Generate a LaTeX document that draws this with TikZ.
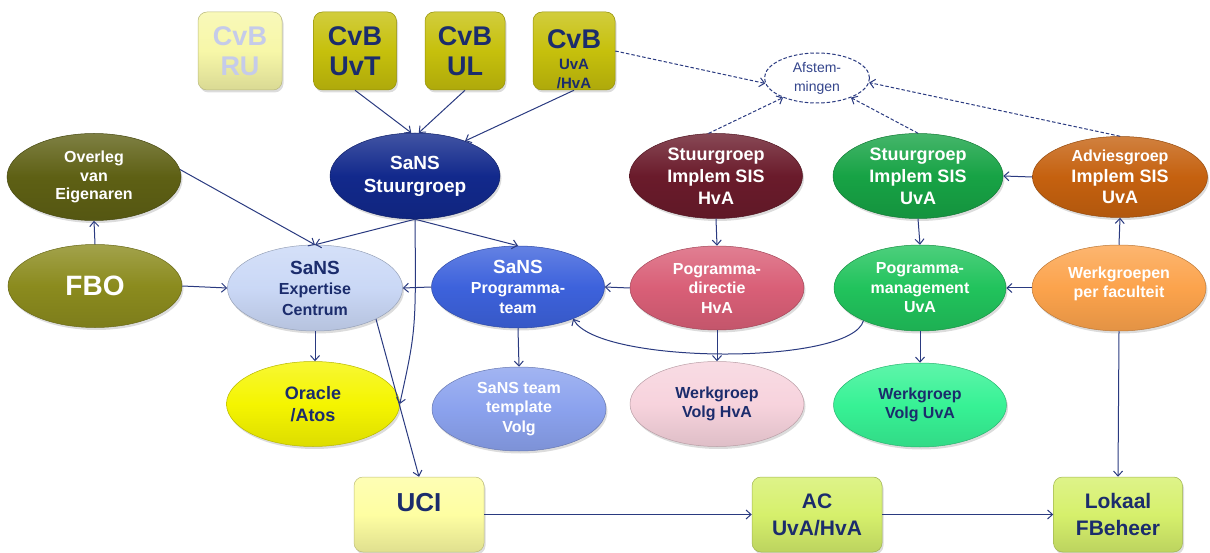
\documentclass[tikz,border=0pt]{standalone}
\usepackage{fontspec}
\setmainfont{Liberation Sans}
\usetikzlibrary{shapes.geometric,arrows.meta,shadows}

\newcommand{\fsz}[2]{\fontsize{#1}{#2}\selectfont}

% palette
\definecolor{ink}{HTML}{1B2C6C}
\definecolor{wire}{HTML}{2A3A80}
\definecolor{softink}{HTML}{34458C}
\definecolor{cvb}{HTML}{C6C00C}
\definecolor{cvbpale}{HTML}{F7F7A8}
\definecolor{cvbpaletext}{HTML}{C5CBEA}
\definecolor{overleg}{HTML}{5E6014}
\definecolor{fbo}{HTML}{8B8B1E}
\definecolor{sansnavy}{HTML}{12298C}
\definecolor{expertise}{HTML}{CAD8F6}
\definecolor{progteam}{HTML}{3D62DC}
\definecolor{template}{HTML}{8BA2EE}
\definecolor{oracle}{HTML}{F5F500}
\definecolor{hvadark}{HTML}{6A1B2B}
\definecolor{hvamid}{HTML}{D95F77}
\definecolor{hvalight}{HTML}{F7D3DD}
\definecolor{uvadark}{HTML}{17A345}
\definecolor{uvamid}{HTML}{21C35C}
\definecolor{uvalight}{HTML}{37F295}
\definecolor{advies}{HTML}{C5610F}
\definecolor{faculteit}{HTML}{FCA34C}
\definecolor{uci}{HTML}{FEFEA2}
\definecolor{beheer}{HTML}{D6F06C}

\tikzset{
  softshadow/.style={drop shadow={opacity=0.28, shadow xshift=1.5pt, shadow yshift=-2.5pt}},
  bubble/.style={ellipse, inner sep=0pt, align=center,
    minimum width=174pt, minimum height=85pt,
    top color=#1!80!white, bottom color=#1!90!black, middle color=#1,
    draw=#1!75!black, line width=0.5pt, softshadow},
  tile/.style={rectangle, rounded corners=9pt, inner sep=0pt, align=center,
    top color=#1!80!white, bottom color=#1!88!black, middle color=#1,
    draw=#1!75!black, line width=0.5pt, softshadow},
  link/.style={draw=wire, line width=1pt, -{Straight Barb[length=5pt,width=9pt]}},
  sync/.style={link, dash pattern=on 3.5pt off 2pt},
}

\begin{document}
\begin{tikzpicture}[x=1pt, y=-1pt]
\useasboundingbox (0,0) rectangle (1210,553);

% --- Colleges van Bestuur ---
\node[tile=cvbpale, text=cvbpaletext, minimum width=84pt, minimum height=78pt,
      font=\bfseries\fsz{27}{30}] (cru) at (240,51) {CvB\\RU};
\node[tile=cvb, text=ink, minimum width=83pt, minimum height=78pt,
      font=\bfseries\fsz{27}{30}] (cuvt) at (355,51) {CvB\\UvT};
\node[tile=cvb, text=ink, minimum width=80pt, minimum height=78pt,
      font=\bfseries\fsz{27}{30}] (cul) at (465,51) {CvB\\UL};
\node[tile=cvb, text=ink, minimum width=82pt, minimum height=78pt,
      font=\bfseries\fsz{15}{19}] (cuva) at (574,51)
      {{\fsz{27}{30}\rule{0pt}{35pt}CvB}\\[2pt]UvA\\/HvA};

% --- coordination ---
\node[ellipse, draw=wire, line width=1pt, dash pattern=on 3.5pt off 2pt, fill=white,
      minimum width=105pt, minimum height=50pt, inner sep=0pt, align=center,
      text=softink, font=\fsz{14}{19}] (af) at (817,78) {Afstem-\\mingen};

% --- left column ---
\node[bubble=overleg, text=white, minimum height=87pt, font=\bfseries\fsz{16}{18.5}]
      (ov) at (94,177) {Overleg\\van\\Eigenaren};
\node[bubble=fbo, text=white, minimum height=83pt, font=\bfseries\fsz{28}{32}]
      (fbo) at (95,286) {FBO};

% --- SaNS ---
\node[bubble=sansnavy, text=white, minimum width=170pt, minimum height=86pt,
      font=\bfseries\fsz{19}{23}] (sg) at (415,176) {SaNS\\Stuurgroep};
\node[bubble=expertise, text=ink, minimum width=175pt, minimum height=86pt,
      font=\bfseries\fsz{16}{20.5}] (ex) at (315,288) {{\fsz{19}{22}SaNS}\\Expertise\\Centrum};
\node[bubble=progteam, text=white, minimum width=173pt, minimum height=82pt,
      font=\bfseries\fsz{16}{20}] (pt) at (518,287) {{\fsz{19}{22}SaNS}\\Programma-\\team};
\node[bubble=oracle, text=ink, minimum width=173pt, minimum height=85pt,
      font=\bfseries\fsz{18}{22}] (oa) at (313,404) {Oracle\\/Atos};
\node[bubble=template, text=white, minimum width=174pt, minimum height=84pt,
      font=\bfseries\fsz{16}{19.5}] (tv) at (519,409) {SaNS team\\template\\Volg};

% --- HvA ---
\node[bubble=hvadark, text=white, minimum width=173pt, minimum height=85pt,
      font=\bfseries\fsz{18}{22}] (sgh) at (716,176) {Stuurgroep\\Implem SIS\\HvA};
\node[bubble=hvamid, text=white, minimum width=174pt, minimum height=84pt,
      font=\bfseries\fsz{16}{19.5}] (pd) at (717,288) {Pogramma-\\directie\\HvA};
\node[bubble=hvalight, text=ink, minimum width=174pt, minimum height=85pt,
      font=\bfseries\fsz{16}{19.5}] (wh) at (717,404) {Werkgroep\\Volg HvA};

% --- UvA ---
\node[bubble=uvadark, text=white, minimum width=170pt, minimum height=85pt,
      font=\bfseries\fsz{18}{22}] (sgu) at (918,176) {Stuurgroep\\Implem SIS\\UvA};
\node[bubble=uvamid, text=white, minimum width=172pt, minimum height=86pt,
      font=\bfseries\fsz{16}{19.5}] (pm) at (920,288) {Pogramma-\\management\\UvA};
\node[bubble=uvalight, text=ink, minimum width=173pt, minimum height=84pt,
      font=\bfseries\fsz{16}{19.5}] (wu) at (920,405) {Werkgroep\\Volg UvA};
\node[bubble=advies, text=white, minimum width=175pt, minimum height=81pt,
      font=\bfseries\fsz{18}{21}] (adv) at (1120,177) {{\fsz{16}{19}Adviesgroep}\\Implem SIS\\UvA};
\node[bubble=faculteit, text=white, minimum width=174pt, minimum height=86pt,
      font=\bfseries\fsz{16}{19.5}] (wf) at (1119,288)
      {Werkgroepen\\per faculteit\rule[-12pt]{0pt}{12pt}};

% --- operations ---
\node[tile=uci, text=ink, minimum width=130pt, minimum height=75pt, text depth=25pt,
      font=\bfseries\fsz{26}{30}] (uc) at (419,514.5) {UCI};
\node[tile=beheer, text=ink, minimum width=130pt, minimum height=75pt,
      font=\bfseries\fsz{21}{27}] (ac) at (817,514.5) {AC\\UvA/HvA};
\node[tile=beheer, text=ink, minimum width=129pt, minimum height=75pt,
      font=\bfseries\fsz{21}{27}] (lf) at (1118,514.5) {Lokaal\\FBeheer};

% --- connectors ---
\draw[link] (cuvt.south) -- (sg.95);
\draw[link] (cul.south) -- (sg.85);
\draw[link] (cuva.south) -- (sg.35);

\draw[sync] (cuva.east) -- (af.186);
\draw[sync] (sgh.100) -- (af.-150);
\draw[sync] (sgu.north) -- (af.-30);
\draw[sync] (adv.north) -- (af.-5);

\draw[link] (fbo.north) -- (ov.south);
\draw[link] (fbo.east) -- (ex.west);
\draw[link] (ov.5) -- (ex.north);
\draw[link] (sg.south) -- (ex.north);
\draw[link] (sg.south) -- (pt.north);
\draw[link] (sg.south) .. controls (416,330) .. (oa.east);

\draw[link] (ex.south) -- (ex.south |- oa.north);
\draw[link] (ex.-27) -- (uc.north);
\draw[link] (pt.west) -- (ex.east);
\draw[link] (pt.south) -- (tv.north);

\draw[link] (sgh.south) -- (pd.north);
\draw[link] (pd.west) -- (pt.east);
\draw[link] (pd.south) -- (wh.north);

\draw[link] (sgu.south) -- (pm.north);
\draw[link] (pm.south) -- (wu.north);
\draw[link] (pm.-150) .. controls +(-12,45) and +(25,46) .. (pt.-30);

\draw[link] (adv.west) -- (sgu.east);
\draw[link] (wf.west) -- (pm.east);
\draw[link] (wf.north) -- (adv.south);
\draw[link] (wf.south) -- (lf.north);

\draw[link] (uc.east) -- (ac.west);
\draw[link] (ac.east) -- (lf.west);
\end{tikzpicture}
\end{document}
